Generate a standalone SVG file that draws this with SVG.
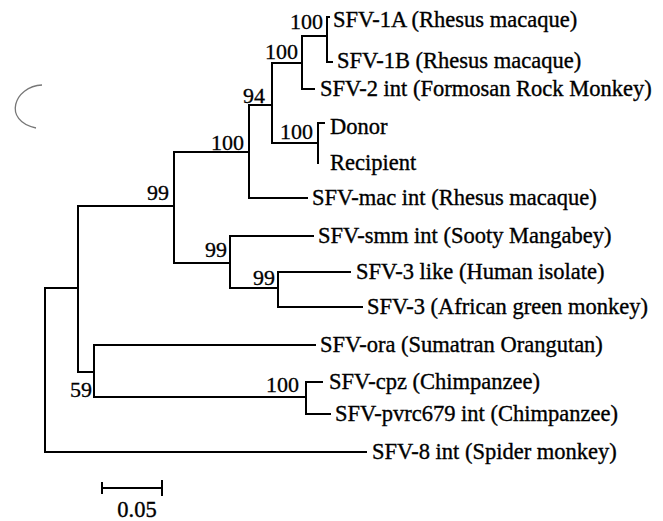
<svg xmlns="http://www.w3.org/2000/svg" width="663" height="521" viewBox="0 0 663 521">
<style>
.br{fill:none;stroke:#000;stroke-width:2;stroke-linecap:square}
.lf{font-family:"Liberation Serif","Times New Roman",serif;font-size:22.5px;fill:#000;stroke:#000;stroke-width:0.35}
.bs{font-family:"Liberation Serif","Times New Roman",serif;font-size:22px;fill:#000;stroke:#000;stroke-width:0.3;text-anchor:end}
</style>
<rect width="663" height="521" fill="#fff"/>
<path d="M42 85 C14 86 2 121 36 128" fill="none" stroke="#777" stroke-width="1.3"/>
<g id="connectors">
<path class="br" d="M45 288V452M45 288H78M45 452H366"/>
<path class="br" d="M78 206V372M78 206H174M78 372H94"/>
<path class="br" d="M174 152V263M174 152H249M174 263H230"/>
<path class="br" d="M249 105V198M249 105H272M249 198H307"/>
<path class="br" d="M272 63V143M272 63H302M272 143H318"/>
<path class="br" d="M302 36V89M302 36H327M302 89H314"/>
<path class="br" d="M327 17V62M327 17H329M327 62H332"/>
<path class="br" d="M318 123V163M318 123H324"/>
<path class="br" d="M230 236V288M230 236H313M230 288H278"/>
<path class="br" d="M278 272V307M278 272H350M278 307H362"/>
<path class="br" d="M94 345V397M94 345H315M94 397H306"/>
<path class="br" d="M306 382V414M306 382H322M306 414H330"/>
</g>
<g id="n-sfv1a"><text class="lf" x="333" y="27">SFV-1A (Rhesus macaque)</text></g>
<g id="n-sfv1b"><text class="lf" x="337" y="68">SFV-1B (Rhesus macaque)</text></g>
<g id="n-sfv2"><text class="lf" x="320" y="96">SFV-2 int (Formosan Rock Monkey)</text></g>
<g id="n-donor"><text class="lf" x="330" y="134">Donor</text></g>
<g id="n-recipient"><text class="lf" x="330" y="170">Recipient</text></g>
<g id="n-sfvmac"><text class="lf" x="312" y="205">SFV-mac int (Rhesus macaque)</text></g>
<g id="n-sfvsmm"><text class="lf" x="318" y="243">SFV-smm int (Sooty Mangabey)</text></g>
<g id="n-sfv3like"><text class="lf" x="356" y="279">SFV-3 like (Human isolate)</text></g>
<g id="n-sfv3"><text class="lf" x="367" y="314" font-size="23">SFV-3 (African green monkey)</text></g>
<g id="n-sfvora"><text class="lf" x="320" y="352">SFV-ora (Sumatran Orangutan)</text></g>
<g id="n-sfvcpz"><text class="lf" x="329" y="389">SFV-cpz (Chimpanzee)</text></g>
<g id="n-sfvpvrc"><text class="lf" x="335" y="421">SFV-pvrc679 int (Chimpanzee)</text></g>
<g id="n-sfv8"><text class="lf" x="372" y="459">SFV-8 int (Spider monkey)</text></g>
<g id="b-1a1b"><text class="bs" x="323" y="29">100</text></g>
<g id="b-sfv1-2"><text class="bs" x="298" y="59">100</text></g>
<g id="b-94"><text class="bs" x="265" y="103">94</text></g>
<g id="b-macclade"><text class="bs" x="244" y="150">100</text></g>
<g id="b-donrec"><text class="bs" x="313" y="139">100</text></g>
<g id="b-oldworld"><text class="bs" x="169" y="200">99</text></g>
<g id="b-smm3"><text class="bs" x="227" y="257">99</text></g>
<g id="b-sfv3"><text class="bs" x="275" y="285">99</text></g>
<g id="b-59"><text class="bs" x="92" y="397">59</text></g>
<g id="b-cpz"><text class="bs" x="299" y="392">100</text></g>
<g id="scale">
<path class="br" d="M102 488H162M102 483V493M162 481V495"/>
<text class="lf" x="137" y="517" text-anchor="middle" font-size="22">0.05</text>
</g>
</svg>
